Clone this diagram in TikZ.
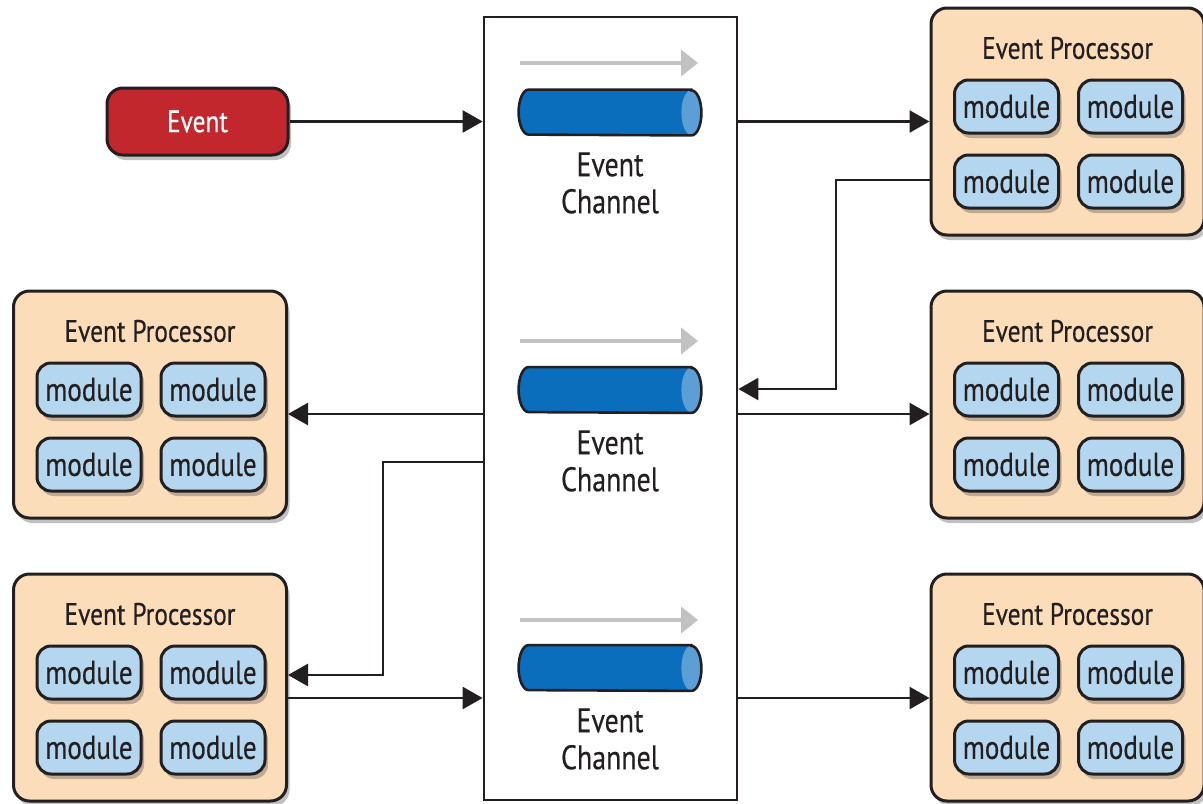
\documentclass[tikz,border=0pt]{standalone}
\usepackage{fontspec}
\setmainfont{PT Sans}[FakeStretch=0.82,FakeBold=0.4]
\usetikzlibrary{arrows.meta,calc,shadows}

\definecolor{eventred}{HTML}{C1272D}
\definecolor{procfill}{HTML}{FCDDBA}
\definecolor{modfill}{HTML}{B5D6EF}
\definecolor{chanblue}{HTML}{0B6EBD}
\definecolor{chanend}{HTML}{5C9FD6}
\definecolor{ink}{HTML}{231F20}
\definecolor{flowgray}{HTML}{C2C2C2}

\tikzset{
	boxshadow/.style={drop shadow={shadow xshift=1.5pt,shadow yshift=-2.5pt,opacity=0.35,fill=black!70}},
	eventbox/.style={draw=ink,line width=1.5pt,fill=eventred,rounded corners=8pt,minimum width=90.5pt,minimum height=33.5pt,text=white,font=\fontsize{15.5}{18}\selectfont,boxshadow},
	procbox/.style={draw=ink,line width=1.5pt,fill=procfill,rounded corners=8pt,minimum width=136.5pt,minimum height=113.5pt,boxshadow},
	proctitle/.style={text=ink,inner sep=0pt,font=\fontsize{15.5}{18}\selectfont},
	modbox/.style={draw=ink,line width=1.5pt,fill=modfill,rounded corners=7pt,minimum width=52pt,minimum height=26.5pt,inner sep=0pt,text=ink,font=\fontsize{16.5}{18}\selectfont,boxshadow},
	chanbox/.style={draw=ink,line width=1.4pt,fill=white,minimum width=126.5pt,minimum height=391.5pt},
	pipebody/.style={minimum width=91pt,minimum height=22.5pt,inner sep=0pt},
	chanlabel/.style={text=ink,align=center,font=\fontsize{17}{18.5}\selectfont},
	flow/.style={draw=ink,line width=1.3pt,-{Triangle[length=10pt,width=11pt]}},
	drift/.style={draw=flowgray,line width=2pt,-{Triangle[length=8.5pt,width=13pt]}}
}

% outline of a pipe: round back end on the left, open end on the right
\def\pipeoutline#1{($(#1.north east)+(-5pt,0)$) -- ($(#1.north west)+(5pt,0)$)
	arc[start angle=90,end angle=270,x radius=5pt,y radius=11.25pt]
	-- ($(#1.south east)+(-5pt,0)$)
	arc[start angle=-90,end angle=90,x radius=5pt,y radius=11.25pt] -- cycle}

% one event channel pipe
\newcommand\channelpipe[2]{%
	\node[pipebody] (#1) at (#2) {};
	\fill[chanblue] \pipeoutline{#1};
	\fill[chanend] ($(#1.east)+(-5pt,0)$) ellipse[x radius=5pt,y radius=11.25pt];
	\draw[ink,line width=1.3pt] \pipeoutline{#1};
}

% one processor box with its four modules
\newcommand\eventprocessor[2]{%
	\node[procbox] (#1) at (#2) {};
	\node[proctitle] (#1-title) at ($(#1)+(0,-73.5)$) {Event Processor};
	\node[modbox] (#1-m1) at ($(#1)+(-61,-15)$) {module};
	\node[modbox] (#1-m2) at ($(#1)+(63,-15)$) {module};
	\node[modbox] (#1-m3) at ($(#1)+(-61,60)$) {module};
	\node[modbox] (#1-m4) at ($(#1)+(63,60)$) {module};
}

\begin{document}
\begin{tikzpicture}[x=0.5pt,y=-0.5pt]
	%%%%% START %%%%%
	\useasboundingbox (0,0) rectangle (1203,803);
	
	% channel column
	\node[chanbox] (column) at (610.5,408.5) {};
	
	\coordinate (driftA0) at (520,63);
	\coordinate (driftA1) at (698,63);
	\draw[drift] (driftA0) -- (driftA1);
	\channelpipe{pipeA}{610,112.5}
	\node[chanlabel] (labelA) at (610,183) {Event\\Channel};
	
	\coordinate (driftB0) at (520,341);
	\coordinate (driftB1) at (698,341);
	\draw[drift] (driftB0) -- (driftB1);
	\channelpipe{pipeB}{610,390}
	\node[chanlabel] (labelB) at (610,461) {Event\\Channel};
	
	\coordinate (driftC0) at (520,620);
	\coordinate (driftC1) at (698,620);
	\draw[drift] (driftC0) -- (driftC1);
	\channelpipe{pipeC}{610,668}
	\node[chanlabel] (labelC) at (610,739) {Event\\Channel};
	
	% initial event
	\node[eventbox] (event) at (197.5,121.5) {Event};
	
	% processors
	\eventprocessor{procR1}{1067.5,121.5}
	\eventprocessor{procR2}{1067.5,404.5}
	\eventprocessor{procR3}{1067.5,687.5}
	\eventprocessor{procL1}{150,404.5}
	\eventprocessor{procL2}{150,687.5}
	
	% connectors
	\coordinate (backA) at (836,180);
	\coordinate (backB) at (383,462);
	\coordinate (outL1) at (0,414);
	\coordinate (inL2) at (0,675);
	\coordinate (outL2) at (0,698);
	
	\draw[flow] (event) -- (event -| column.west);
	\draw[flow] (column.east |- procR1) -- (procR1);
	\draw[flow] (procR1.west |- backA) -- (backA) |- (column.east |- 0,389);
	\draw[flow] (column.east |- outL1) -- (procR2.west |- outL1);
	\draw[flow] (column.west |- outL1) -- (procL1.east |- outL1);
	\draw[flow] (column.west |- backB) -- (backB) |- (procL2.east |- inL2);
	\draw[flow] (procL2.east |- outL2) -- (column.west |- outL2);
	\draw[flow] (column.east |- outL2) -- (procR3.west |- outL2);
	%%%%% END %%%%%
\end{tikzpicture}
\end{document}
